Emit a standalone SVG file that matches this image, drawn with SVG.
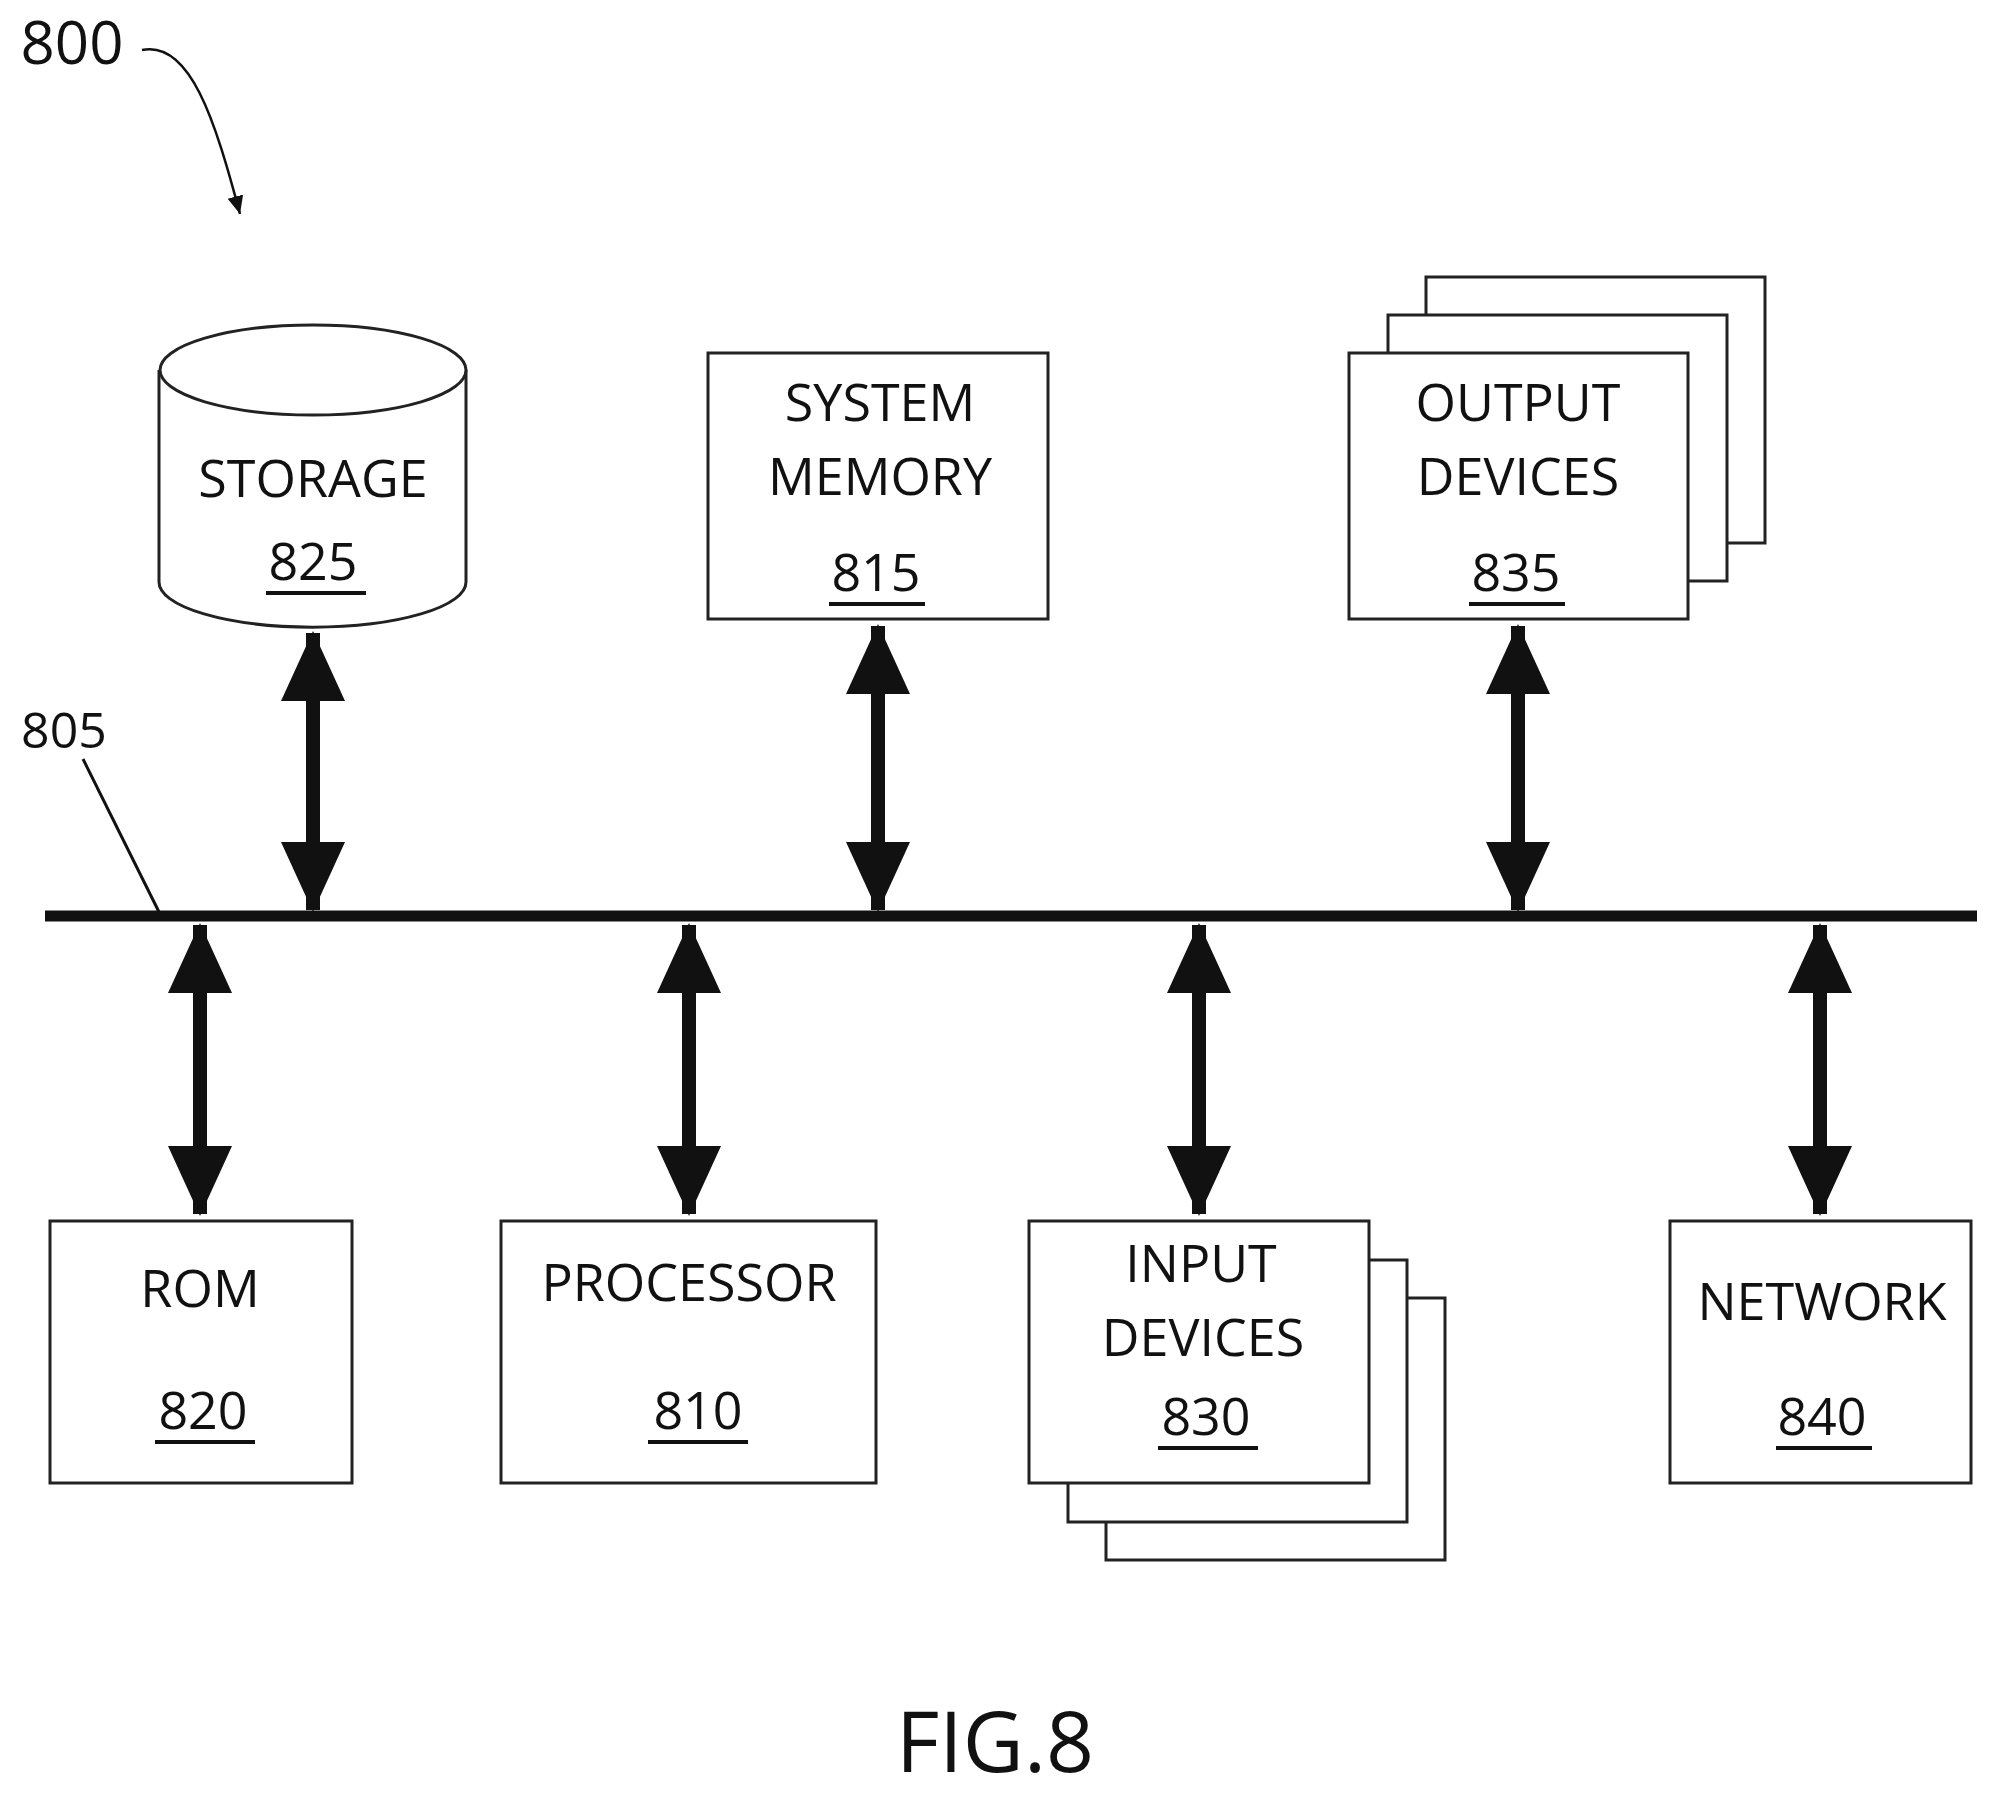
<svg xmlns="http://www.w3.org/2000/svg" width="1990" height="1798" viewBox="0 0 1990 1798">
<style>
text{font-family:"Open Sans","DejaVu Sans",sans-serif;fill:#111;text-anchor:middle;font-size:52px}
.b{fill:#fff;stroke:#222;stroke-width:3}
.u{stroke:#111;stroke-width:4}
.a{stroke:#111;stroke-width:14;marker-start:url(#h);marker-end:url(#h)}
</style>
<defs>
<marker id="h" markerUnits="userSpaceOnUse" markerWidth="70" markerHeight="64" refX="68" refY="32" orient="auto-start-reverse"><path d="M0,0 L70,32 L0,64 Z" fill="#111"/></marker>
<marker id="s" markerUnits="userSpaceOnUse" markerWidth="20" markerHeight="20" refX="18" refY="10" orient="auto"><path d="M0,2 L18,10 L0,18 Z" fill="#111"/></marker>
</defs>
<rect width="1990" height="1798" fill="#fff"/>
<text x="72" y="64" style="font-size:60px">800</text>
<path d="M142,50 C190,40 215,120 240,214" fill="none" stroke="#111" stroke-width="2.5" marker-end="url(#s)"/>
<text x="64" y="748" style="font-size:50px">805</text>
<line x1="83" y1="759" x2="159" y2="912" stroke="#111" stroke-width="3"/>
<g id="connectors">
<line x1="45" y1="916" x2="1977" y2="916" stroke="#111" stroke-width="11"/>
<line class="a" x1="313" y1="633" x2="313" y2="910"/>
<line class="a" x1="878" y1="626" x2="878" y2="910"/>
<line class="a" x1="1518" y1="626" x2="1518" y2="910"/>
<line class="a" x1="200" y1="925" x2="200" y2="1214"/>
<line class="a" x1="689" y1="925" x2="689" y2="1214"/>
<line class="a" x1="1199" y1="925" x2="1199" y2="1214"/>
<line class="a" x1="1820" y1="925" x2="1820" y2="1214"/>
</g>
<g id="storage">
<path class="b" d="M159,370 L159,582 A153,45 0 0 0 466,582 L466,370"/>
<ellipse class="b" cx="313" cy="370" rx="153" ry="45"/>
<text x="313" y="497">STORAGE</text>
<text x="313" y="580">825</text><line class="u" x1="266" y1="593" x2="366" y2="593"/>
</g>
<g id="memory">
<rect class="b" x="708" y="353" width="340" height="266"/>
<text x="880" y="421">SYSTEM</text><text x="880" y="495">MEMORY</text>
<text x="876" y="591">815</text><line class="u" x1="829" y1="604" x2="925" y2="604"/>
</g>
<g id="output">
<rect class="b" x="1426" y="277" width="339" height="266"/>
<rect class="b" x="1388" y="315" width="339" height="266"/>
<rect class="b" x="1349" y="353" width="339" height="266"/>
<text x="1518" y="421">OUTPUT</text><text x="1518" y="495">DEVICES</text>
<text x="1516" y="591">835</text><line class="u" x1="1469" y1="604" x2="1565" y2="604"/>
</g>
<g id="rom">
<rect class="b" x="50" y="1221" width="302" height="262"/>
<text x="200" y="1307">ROM</text>
<text x="203" y="1429">820</text><line class="u" x1="155" y1="1442" x2="255" y2="1442"/>
</g>
<g id="processor">
<rect class="b" x="501" y="1221" width="375" height="262"/>
<text x="689" y="1301">PROCESSOR</text>
<text x="698" y="1429">810</text><line class="u" x1="648" y1="1442" x2="748" y2="1442"/>
</g>
<g id="input">
<rect class="b" x="1106" y="1298" width="339" height="262"/>
<rect class="b" x="1068" y="1260" width="339" height="262"/>
<rect class="b" x="1029" y="1221" width="340" height="262"/>
<text x="1201" y="1282">INPUT</text><text x="1203" y="1356">DEVICES</text>
<text x="1206" y="1435">830</text><line class="u" x1="1158" y1="1448" x2="1258" y2="1448"/>
</g>
<g id="network">
<rect class="b" x="1670" y="1221" width="301" height="262"/>
<text x="1822" y="1320">NETWORK</text>
<text x="1822" y="1435">840</text><line class="u" x1="1776" y1="1448" x2="1872" y2="1448"/>
</g>
<text x="995" y="1772" style="font-size:84px">FIG.8</text>
</svg>
